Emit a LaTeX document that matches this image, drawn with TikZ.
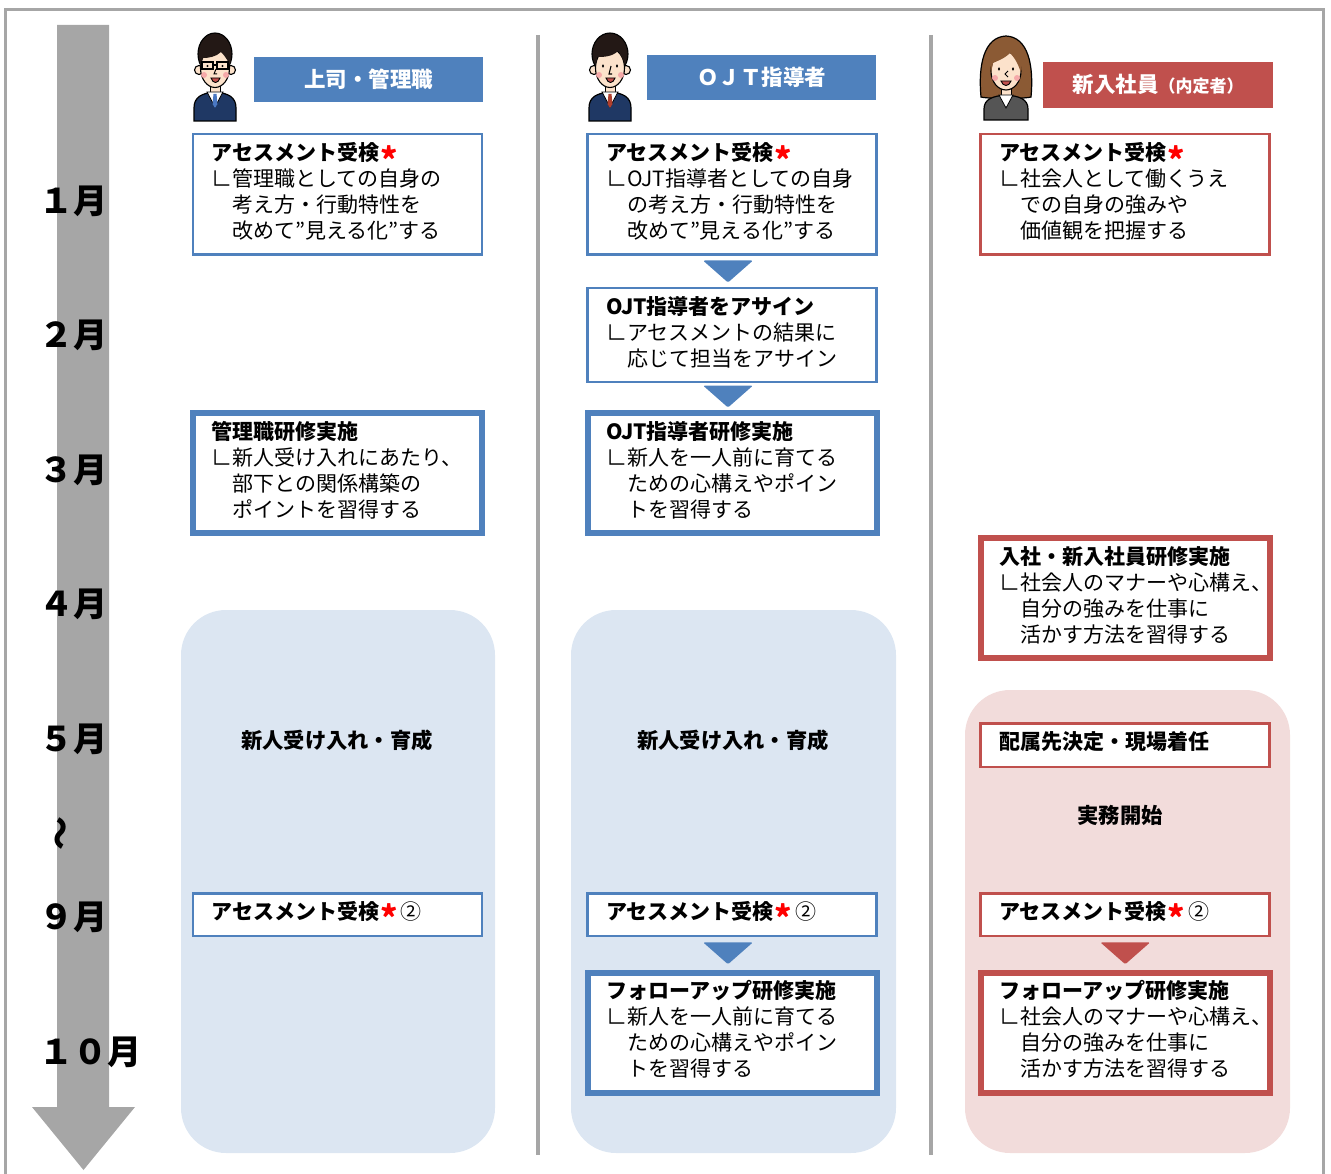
\documentclass[tikz,border=0pt]{standalone}
\usepackage{fontspec}
\setmainfont{Noto Sans CJK JP}
\usetikzlibrary{calc}

\definecolor{hdblue}{HTML}{4F81BD}
\definecolor{hdred}{HTML}{C0504D}
\definecolor{paleblue}{HTML}{DCE6F2}
\definecolor{palered}{HTML}{F2DCDB}
\definecolor{railgray}{HTML}{A6A6A6}
\definecolor{astred}{HTML}{FF0000}
\definecolor{skin}{HTML}{FCE2CB}
\definecolor{cheek}{HTML}{F5A9A9}
\definecolor{hairdark}{HTML}{231815}
\definecolor{hairbrown}{HTML}{8B5A34}
\definecolor{suitnavy}{HTML}{1F3864}
\definecolor{suitgray}{HTML}{555555}
\definecolor{tieblue}{HTML}{4A78C2}
\definecolor{tiered}{HTML}{B0402E}
\definecolor{mouthc}{HTML}{C0504D}

% red note mark after a title (no extra height or depth)
\newcommand\redstar{\kern1pt\raisebox{-11.5pt}[0pt][0pt]{\color{astred}\fontsize{33}{33}\selectfont *}\kern3pt}
% small downward triangle between two stacked boxes
\newcommand\downmark[4]{%
  \fill[#1,rounded corners=1.5]
    ($(#2.south)!0.5!(#3.north)+(#4-25,-11)$) -- ++(50,0) -- ++(-25,22) -- cycle;}

\tikzset{
  txt/.style={font=\fontsize{21}{26}\selectfont},
  stepbox/.style={txt, draw=#1, fill=white, line width=2.5,
    minimum width=289, text width=252, inner xsep=18.5, inner ysep=0,
    align=left, execute at end node={\par\kern6pt}},
  bigbox/.style={stepbox=#1, line width=6},
  header/.style={fill=#1, text=white, inner sep=0, minimum width=229,
    minimum height=45, font=\bfseries\fontsize{21.5}{21.5}\selectfont},
  month/.style={anchor=west, inner sep=0, font=\bfseries\fontsize{34}{34}\selectfont},
  lane/.style={font=\bfseries\fontsize{21.3}{21.3}\selectfont, inner sep=0},
  divider/.style={railgray, line width=4},
}

\begin{document}
\begin{tikzpicture}[x=1pt,y=-1pt]
\useasboundingbox (0,0) rectangle (1331,1174);

% outer frame
\draw[railgray, line width=3.5] (5.5,1200) -- (5.5,9.5) -- (1323.5,9.5) -- (1323.5,1200);

% time axis
\fill[railgray] (57,25) -- (109,25) -- (109,1107) -- (135,1107) -- (83.5,1170)
  -- (32,1107) -- (57,1107) -- cycle;
\node[month] (m1) at (39,201) {１月};
\node[month] (m2) at (39,335) {２月};
\node[month] (m3) at (39,470) {３月};
\node[month] (m4) at (39,604) {４月};
\node[month] (m5) at (39,739) {５月};
\node[inner sep=0, font=\bfseries\fontsize{34}{34}\selectfont, rotate=90] (gap) at (64,833) {〜};
\node[month] (m9) at (39,917) {９月};
\node[month] (m10) at (39,1052) {１０月};

% column dividers
\draw[divider] (538,35) -- (538,1155);
\draw[divider] (931,35) -- (931,1155);

% lane backgrounds
\fill[paleblue, rounded corners=45] (181,610) rectangle (495,1153);
\fill[paleblue, rounded corners=45] (571,610) rectangle (896,1153);
\fill[palered, rounded corners=45] (965,690) rectangle (1290,1153);

% ---------- person: manager with glasses ----------
\begin{scope}[shift={(190,33)}]
  \draw[fill=suitnavy, line width=1.2] (4,88) -- (4,75) .. controls (4,64) and (12,60) .. (25,59)
    .. controls (38,60) and (46,64) .. (46,75) -- (46,88) -- cycle;
  \draw[fill=skin, line width=1] (20,48) rectangle (30,60);
  \draw[fill=white, line width=0.8] (17,59) -- (33,59) -- (25,74) -- cycle;
  \fill[tieblue] (23.5,61) -- (26.5,61) -- (27.5,71) -- (25,75) -- (22.5,71) -- cycle;
  \draw[fill=skin, line width=1.1] (9,37) circle (4.5) (41,37) circle (4.5);
  \draw[fill=hairdark, line width=1.1] (25,21) ellipse (17 and 21);
  \draw[fill=skin, line width=1.1] (25,35) ellipse (14.5 and 19.5);
  \fill[hairdark] (10.5,33) .. controls (9,12) and (22,6) .. (32,8) .. controls (40,11) and (42,22) .. (40,32)
    .. controls (37,26) and (34,22) .. (31,19) .. controls (26,24) and (18,25) .. (13,25)
    .. controls (12,28) and (11,30) .. (10.5,33) -- cycle;
  \fill[cheek] (14,42) circle (3) (36,42) circle (3);
  \draw[line width=1.2] (12,29) rectangle (23,36) (27,29) rectangle (38,36) (23,32) -- (27,32);
  \fill (17.5,33) circle (1.2) (32.5,33) circle (1.2);
  \draw[line width=1] (26,36) -- (24,41) -- (27,41);
  \draw[fill=mouthc, line width=0.9] (21,45) .. controls (23,51) and (28,51) .. (30,45) -- cycle;
\end{scope}

% ---------- person: OJT trainer ----------
\begin{scope}[shift={(585,33)}]
  \draw[fill=suitnavy, line width=1.2] (4,88) -- (4,75) .. controls (4,64) and (12,60) .. (25,59)
    .. controls (38,60) and (46,64) .. (46,75) -- (46,88) -- cycle;
  \draw[fill=skin, line width=1] (20,48) rectangle (30,60);
  \draw[fill=white, line width=0.8] (17,59) -- (33,59) -- (25,74) -- cycle;
  \fill[tiered] (23.5,61) -- (26.5,61) -- (27.5,71) -- (25,75) -- (22.5,71) -- cycle;
  \draw[fill=skin, line width=1.1] (9,37) circle (4.5) (41,37) circle (4.5);
  \draw[fill=hairdark, line width=1.1] (25,21) ellipse (18 and 21);
  \draw[fill=skin, line width=1.1] (25,35) ellipse (14.5 and 19.5);
  \fill[hairdark] (10.5,33) .. controls (8,10) and (22,4) .. (32,7) .. controls (41,10) and (43,22) .. (40,32)
    .. controls (38,25) and (35,21) .. (33,18) .. controls (27,24) and (18,24) .. (12,24)
    .. controls (12,28) and (11,30) .. (10.5,33) -- cycle;
  \fill[cheek] (14,42) circle (3) (36,42) circle (3);
  \fill (18,33) ellipse (1.1 and 1.8) (32,33) ellipse (1.1 and 1.8);
  \draw[line width=1.1] (26,33) -- (24,41) -- (27,41);
  \draw[fill=mouthc, line width=0.9] (21,45) .. controls (23,51) and (28,51) .. (30,45) -- cycle;
\end{scope}

% ---------- person: new employee ----------
\begin{scope}[shift={(978,35)}]
  \draw[fill=hairbrown, line width=1.2] (3,62) .. controls (0,30) and (6,2) .. (28,1)
    .. controls (50,2) and (56,30) .. (53,62) .. controls (45,64) and (11,64) .. (3,62) -- cycle;
  \draw[fill=suitgray, line width=1.2] (6,85) -- (6,74) .. controls (6,64) and (15,61) .. (28,60)
    .. controls (41,61) and (50,64) .. (50,74) -- (50,85) -- cycle;
  \draw[fill=skin, line width=1] (23,50) rectangle (33,61);
  \draw[fill=white, line width=0.8] (21,60) -- (35,60) -- (28,73) -- cycle;
  \draw[fill=skin, line width=1.1] (28,36) ellipse (15 and 19);
  \fill[hairbrown] (13,38) .. controls (11,18) and (20,9) .. (30,9) .. controls (40,9) and (46,20) .. (43,38)
    .. controls (40,28) and (36,22) .. (32,18) .. controls (26,24) and (19,26) .. (15,28) -- cycle;
  \fill[cheek] (17,43) circle (3) (39,43) circle (3);
  \fill (21,34) ellipse (1.1 and 1.8) (35,34) ellipse (1.1 and 1.8);
  \draw[line width=1] (30,36) -- (27,39) -- (30,42);
  \draw[fill=mouthc, line width=0.9] (23,46) .. controls (25,52) and (31,52) .. (33,46) -- cycle;
\end{scope}

% ---------- headers ----------
\node[header=hdblue] (h1) at (368.5,79.5) {\raisebox{2.5pt}{上司・管理職}};
\node[header=hdblue] (h2) at (761.5,77.5) {\raisebox{2.5pt}{ＯＪＴ指導者}};
\node[header=hdred, minimum width=230, minimum height=46] (h3) at (1158,85)
  {\raisebox{2.5pt}{新入社員{\fontsize{17}{17}\selectfont（内定者）}}};

% ---------- column 1: manager ----------
\node[stepbox=hdblue, minimum height=120.5] (a1) at (337.5,194.5)
  {\textbf{アセスメント受検\redstar}\\∟管理職としての自身の\\　考え方・行動特性を\\　改めて”見える化”する};
\node[bigbox=hdblue, minimum height=120] (k1) at (337.5,473)
  {\textbf{管理職研修実施}\\∟新人受け入れにあたり、\\　部下との関係構築の\\　ポイントを習得する};
\node[lane] (l1) at (337,740) {新人受け入れ・育成};
\node[stepbox=hdblue, minimum height=42.5] (s1) at (337.5,914.5)
  {\textbf{アセスメント受検\redstar}②};

% ---------- column 2: OJT trainer ----------
\node[stepbox=hdblue, minimum height=120.5] (a2) at (732,194.5)
  {\textbf{アセスメント受検\redstar}\\∟OJT指導者としての自身\\　の考え方・行動特性を\\　改めて”見える化”する};
\node[stepbox=hdblue, minimum height=93.5] (b2) at (732,335)
  {\textbf{OJT指導者をアサイン}\\∟アセスメントの結果に\\　応じて担当をアサイン};
\node[bigbox=hdblue, minimum height=120] (k2) at (732,473)
  {\textbf{OJT指導者研修実施}\\∟新人を一人前に育てる\\　ための心構えやポイン\\　トを習得する};
\node[lane] (l2) at (733,740) {新人受け入れ・育成};
\node[stepbox=hdblue, minimum height=42.5] (s2) at (732,914.5)
  {\textbf{アセスメント受検\redstar}②};
\node[bigbox=hdblue, minimum height=120] (f2) at (732,1032.5)
  {\textbf{フォローアップ研修実施}\\∟新人を一人前に育てる\\　ための心構えやポイン\\　トを習得する};
\downmark{hdblue}{a2}{b2}{-4}
\downmark{hdblue}{b2}{k2}{-4}
\downmark{hdblue}{s2}{f2}{-4}

% ---------- column 3: new employee ----------
\node[stepbox=hdred, minimum height=120.5] (a3) at (1125,194.5)
  {\textbf{アセスメント受検\redstar}\\∟社会人として働くうえ\\　での自身の強みや\\　価値観を把握する};
\node[bigbox=hdred, minimum height=120] (k3) at (1125.5,598)
  {\textbf{入社・新入社員研修実施}\\∟社会人のマナーや心構え、\\　自分の強みを仕事に\\　活かす方法を習得する};
\node[stepbox=hdred, minimum height=43.5] (p3) at (1125,745)
  {\textbf{配属先決定・現場着任}};
\node[lane] (l3) at (1120,815) {実務開始};
\node[stepbox=hdred, minimum height=42.5] (s3) at (1125,914.5)
  {\textbf{アセスメント受検\redstar}②};
\node[bigbox=hdred, minimum height=120] (f3) at (1125.5,1032.5)
  {\textbf{フォローアップ研修実施}\\∟社会人のマナーや心構え、\\　自分の強みを仕事に\\　活かす方法を習得する};
\downmark{hdred}{s3}{f3}{0}

\end{tikzpicture}
\end{document}
